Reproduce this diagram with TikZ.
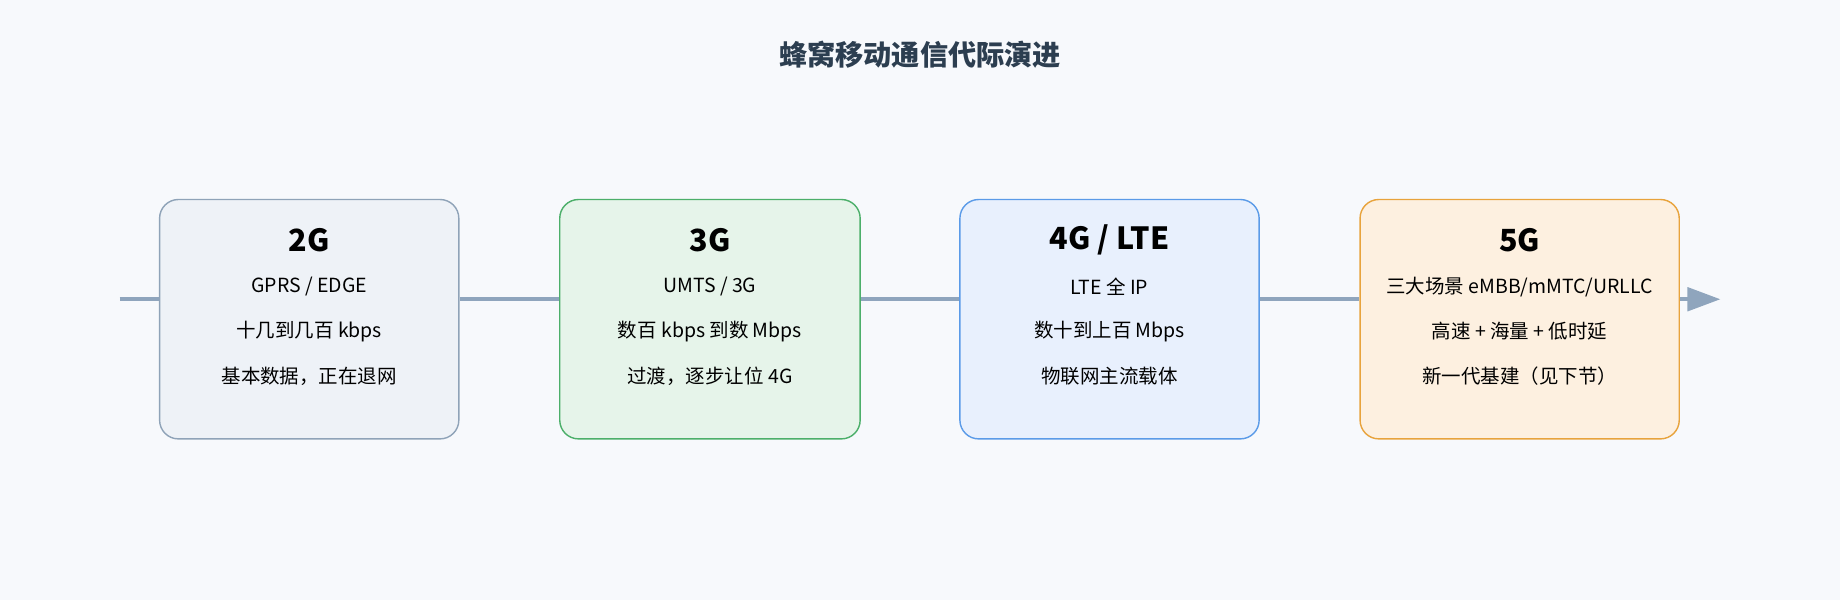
\documentclass[tikz,border=0pt]{standalone}
\usepackage{fontspec}
\setmainfont{Noto Sans CJK SC}
\usetikzlibrary{calc,positioning,arrows.meta}
\definecolor{bg}{HTML}{F7F9FC}
\definecolor{linec}{HTML}{8FA5BD}
\definecolor{titlec}{HTML}{2C3E50}
\definecolor{fa}{HTML}{EEF2F7}\definecolor{da}{HTML}{8FA3B8}
\definecolor{fb}{HTML}{E6F4EA}\definecolor{db}{HTML}{4CAF6A}
\definecolor{fc}{HTML}{E8F0FD}\definecolor{dc}{HTML}{5B9BE8}
\definecolor{fd}{HTML}{FDF0E0}\definecolor{dd}{HTML}{E8A33C}
\tikzset{
  gen/.style={draw, rounded corners=8pt, line width=0.6pt, minimum height=102pt, inner sep=0pt},
  head/.style={font=\fontsize{13}{15}\selectfont\bfseries},
  body/.style={font=\fontsize{8.3}{10}\selectfont},
  axis/.style={draw=linec, line width=1.5pt}
}
\begin{document}
\begin{tikzpicture}[x=0.5pt,y=-0.5pt]
\fill[bg] (0,0) rectangle (1568,511);
\useasboundingbox (0,0) rectangle (1568,511);
\node[font=\fontsize{12}{14}\selectfont\bfseries, text=titlec] (title) at (784,47) {蜂窝移动通信代际演进};
% timeline
\coordinate (start) at (102,255);
\coordinate (end) at (1466,255);
\node[gen, fill=fa, draw=da, minimum width=127.5pt] (g2) at (263.5,272) {};
\node[gen, fill=fb, draw=db, minimum width=128pt] (g3) at (605,272) {};
\node[gen, fill=fc, draw=dc, minimum width=127.5pt] (g4) at (945.5,272) {};
\node[gen, fill=fd, draw=dd, minimum width=136pt] (g5) at (1295,272) {};
\path[axis] (start) -- (g2.west |- start);
\path[axis] (g2.east |- start) -- (g3.west |- start);
\path[axis] (g3.east |- start) -- (g4.west |- start);
\path[axis] (g4.east |- start) -- (g5.west |- start);
\path[axis, -{Triangle[length=14pt,width=10pt]}] (g5.east |- start) -- (end);
% labels
\foreach \n/\h/\a/\b/\c in {
  g2/2G/{GPRS / EDGE}/十几到几百 kbps/基本数据，正在退网,
  g3/3G/{UMTS / 3G}/数百 kbps 到数 Mbps/过渡，逐步让位 4G,
  g4/{4G / LTE}/LTE 全 IP/数十到上百 Mbps/物联网主流载体,
  g5/5G/{三大场景 eMBB/mMTC/URLLC}/高速 + 海量 + 低时延/新一代基建（见下节）}{
  \node[head] (\n h) at ($(\n.north)+(0,35)$) {\h};
  \node[body] (\n a) at ($(\n.north)+(0,75)$) {\a};
  \node[body] (\n b) at ($(\n.north)+(0,113)$) {\b};
  \node[body] (\n c) at ($(\n.north)+(0,151)$) {\c};
}
\end{tikzpicture}
\end{document}
